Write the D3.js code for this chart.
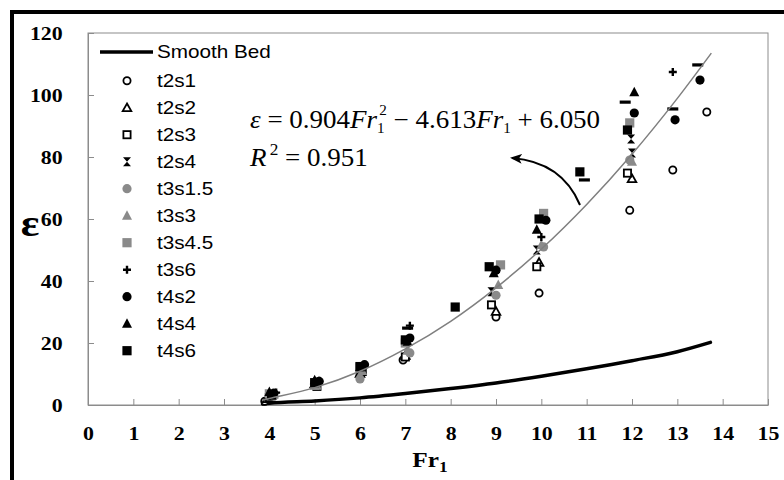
<!DOCTYPE html>
<html>
<head>
<meta charset="utf-8">
<script src="https://cdn.jsdelivr.net/npm/d3@7/dist/d3.min.js"></script>
<style>
	body { margin: 0; background: #fff; }
	svg { display: block; }
</style>
</head>
<body>
<svg id="svg_main" width="784" height="480"></svg>
<script>
// values, pairs are [Fr1, epsilon]
var smoothBed = [[3.85, 0.3], [4, 0.6], [5, 1.3], [6, 2.3], [7, 3.7], [8, 5.3], [9, 7.1], [10, 9.3], [11, 11.7], [12, 14.3], [13, 17.2], [13.73, 20.2]];
var trend = [[3.85, 1.6], [4, 2.1], [5, 5.6], [6, 10.9], [7, 18.1], [8, 27.0], [9, 37.8], [10, 50.3], [11, 64.7], [12, 80.9], [13, 98.9], [13.75, 113.5]];

var t2s1 = [[3.9, 1.2], [5.0, 6.3], [6.0, 9.5], [6.95, 14.5], [9.0, 28.4], [9.95, 36.1], [11.95, 62.8], [12.9, 75.8], [13.65, 94.5]];
var t2s2 = [[3.95, 2.0], [5.0, 6.8], [6.0, 10.2], [7.0, 16.0], [9.0, 30.2], [9.95, 46.0], [12.0, 73.0]];
var t2s3 = [[4.0, 2.4], [5.05, 6.0], [6.05, 10.8], [7.0, 15.5], [8.9, 32.3], [9.9, 44.6], [11.9, 74.8]];
var t2s4 = [[4.05, 3.0], [5.05, 7.4], [6.05, 11.6], [7.05, 18.2], [8.9, 36.5], [9.9, 50.0], [11.98, 85.8], [12.0, 81.3]];
var t3s1_5 = [[4.1, 2.8], [5.0, 6.8], [6.0, 8.4], [7.1, 16.8], [9.0, 35.4], [10.05, 51.0], [11.95, 79.0]];
var t3s3 = [[4.1, 3.4], [5.05, 6.2], [6.05, 11.0], [7.05, 17.6], [9.05, 38.7], [10.0, 51.6], [12.0, 78.5]];
var t3s4_5 = [[4.0, 3.6], [5.0, 6.4], [6.0, 12.2], [7.0, 20.0], [9.1, 45.2], [10.05, 61.8], [11.95, 91.0]];
var t3s6 = [[4.15, 4.0], [5.1, 7.8], [6.1, 12.8], [7.1, 25.6], [9.0, 43.0], [10.0, 54.2], [12.9, 107.4]];
var t4s2 = [[4.1, 3.8], [5.1, 7.6], [6.1, 13.0], [7.1, 21.6], [9.0, 43.5], [10.1, 59.6], [12.05, 94.2], [12.95, 92.0], [13.5, 104.8]];
var t4s4 = [[4.0, 4.2], [5.0, 8.0], [6.0, 12.2], [7.05, 20.4], [8.95, 42.5], [9.9, 56.5], [12.05, 100.9]];
var t4s6 = [[4.05, 3.2], [5.0, 7.2], [6.0, 12.4], [7.0, 21.0], [8.1, 31.6], [8.85, 44.6], [9.95, 60.0], [10.85, 75.2], [11.9, 88.7]];
// dash markers in the plot, series has no legend entry
var dashSeries = [[7.05, 24.8], [10.95, 72.6], [11.85, 97.7], [12.9, 95.5], [13.45, 109.7]];

var seriesNames = ["t2s1", "t2s2", "t2s3", "t2s4", "t3s1.5", "t3s3", "t3s4.5", "t3s6", "t4s2", "t4s4", "t4s6"];
var seriesData = [t2s1, t2s2, t2s3, t2s4, t3s1_5, t3s3, t3s4_5, t3s6, t4s2, t4s4, t4s6];
var seriesShapes = ["circleOpen", "triOpen", "squareOpen", "bowtie", "circle", "tri", "square", "plus", "circle", "tri", "square"];
var seriesColors = ["#000", "#000", "#000", "#000", "#8a8a8a", "#8a8a8a", "#8a8a8a", "#000", "#000", "#000", "#000"];

var xTickVals = [0, 1, 2, 3, 4, 5, 6, 7, 8, 9, 10, 11, 12, 13, 14, 15];
var yTickVals = [0, 20, 40, 60, 80, 100, 120];

var margin = { top: 33, right: 16, bottom: 75, left: 88 };
var stretch = "scale(1.15,1)";

function marker(g, shape, color) {
	if (shape == "circleOpen")
		g.append("circle").attr("r", 3.6).attr("fill", "#fff").attr("stroke", "#000").attr("stroke-width", 1.8);
	else if (shape == "triOpen")
		g.append("path").attr("d", "M0,-4.2L4.3,3.4L-4.3,3.4Z").attr("fill", "#fff").attr("stroke", "#000").attr("stroke-width", 1.8);
	else if (shape == "squareOpen")
		g.append("rect").attr("x", -3.6).attr("y", -3.6).attr("width", 7.2).attr("height", 7.2)
			.attr("fill", "#fff").attr("stroke", "#000").attr("stroke-width", 1.8);
	else if (shape == "bowtie")
		g.append("path").attr("d", "M-4,-4.5L4,-4.5L-4,4.5L4,4.5Z").attr("fill", color);
	else if (shape == "circle")
		g.append("circle").attr("r", 4.6).attr("fill", color);
	else if (shape == "tri")
		g.append("path").attr("d", "M0,-5.5L5,4L-5,4Z").attr("fill", color);
	else if (shape == "square")
		g.append("rect").attr("x", -4.6).attr("y", -4.6).attr("width", 9.2).attr("height", 9.2).attr("fill", color);
	else if (shape == "plus")
		g.append("path").attr("d", "M-4,0H4M0,-4V4").attr("stroke", color).attr("stroke-width", 2.4);
	else if (shape == "dash")
		g.append("rect").attr("x", -5.5).attr("y", -1.6).attr("width", 11).attr("height", 3.2).attr("fill", color);
}

function main() {
	var root = d3.select("#svg_main");

	var width = parseInt(root.attr("width")) - margin.left - margin.right,
		height = parseInt(root.attr("height")) - margin.top - margin.bottom;

	// outer frame, only top and left edges are inside the picture
	root.append("path")
		.attr("d", "M12,484V12H788")
		.attr("fill", "none")
		.attr("stroke", "#000")
		.attr("stroke-width", 4);

	var svg = root.append("g")
		.attr("transform", `translate(${margin.left}, ${margin.top})`);

	var x = d3.scaleLinear().domain([0, 15]).range([0, width]),
		y = d3.scaleLinear().domain([0, 120]).range([height, 0]);

	svg.append("rect")
		.attr("width", width)
		.attr("height", height)
		.attr("fill", "none")
		.attr("stroke", "#8c8c8c");

	var xAxis = d3.axisBottom(x).tickValues(xTickVals).tickSizeInner(-6).tickSizeOuter(0).tickPadding(22),
		yAxis = d3.axisLeft(y).tickValues(yTickVals).tickSizeInner(-6).tickSizeOuter(0).tickPadding(22);

	svg.append("g")
		.attr("class", "xAxis")
		.attr("transform", `translate(0, ${height})`)
		.call(xAxis);
	svg.append("g")
		.attr("class", "yAxis")
		.call(yAxis);

	svg.selectAll(".domain, .tick line").attr("stroke", "#8c8c8c");
	svg.selectAll(".tick text")
		.attr("font-family", "'Liberation Serif', 'Times New Roman', serif")
		.attr("font-weight", "bold")
		.attr("font-size", "19px")
		.attr("fill", "#000")
		.attr("transform", stretch);

	var line = d3.line()
		.x(d => x(d[0]))
		.y(d => y(d[1]))
		.curve(d3.curveMonotoneX);

	svg.append("path")
		.datum(smoothBed)
		.attr("d", line)
		.attr("fill", "none")
		.attr("stroke", "#000")
		.attr("stroke-width", 3.5)
		.attr("stroke-linecap", "round");

	seriesData.forEach((data, i) => {
		let grp = svg.append("g").attr("class", "series");
		for (let d of data) {
			let m = grp.append("g").attr("transform", `translate(${x(d[0])}, ${y(d[1])})`);
			marker(m, seriesShapes[i], seriesColors[i]);
		}
	});
	for (let d of dashSeries) {
		let m = svg.append("g").attr("transform", `translate(${x(d[0])}, ${y(d[1])})`);
		marker(m, "dash", "#000");
	}

	svg.append("path")
		.datum(trend)
		.attr("d", line)
		.attr("fill", "none")
		.attr("stroke", "#7f7f7f")
		.attr("stroke-width", 1.5);

	// legend
	var legend = root.append("g").attr("class", "legend");
	var legendFont = "'Liberation Sans', Arial, sans-serif";
	legend.append("line")
		.attr("x1", 100).attr("x2", 153)
		.attr("y1", 52).attr("y2", 52)
		.attr("stroke", "#000")
		.attr("stroke-width", 3.5);
	legend.append("text")
		.attr("transform", `translate(157, 58) ${stretch}`)
		.attr("font-family", legendFont)
		.attr("font-size", "18px")
		.text("Smooth Bed");
	seriesNames.forEach((name, i) => {
		let ly = 80.7 + i * 27;
		let m = legend.append("g").attr("transform", `translate(127, ${ly})`);
		marker(m, seriesShapes[i], seriesColors[i]);
		legend.append("text")
			.attr("transform", `translate(157, ${ly + 6}) ${stretch}`)
			.attr("font-family", legendFont)
			.attr("font-size", "18px")
			.text(name);
	});

	// axis titles
	var serif = "'Liberation Serif', 'Times New Roman', serif";
	root.append("text")
		.attr("transform", `translate(30, 236) ${stretch}`)
		.attr("text-anchor", "middle")
		.attr("font-family", serif)
		.attr("font-weight", "bold")
		.attr("font-size", "38px")
		.text("ε");

	var fr = root.append("text")
		.attr("transform", `translate(430, 467) ${stretch}`)
		.attr("text-anchor", "middle")
		.attr("font-family", serif)
		.attr("font-weight", "bold")
		.attr("font-size", "22px");
	fr.append("tspan").text("Fr");
	fr.append("tspan").attr("font-size", "15px").attr("dy", 5).text("1");

	// regression equation
	var eq = root.append("text")
		.attr("transform", `translate(250, 128) scale(1.08,1)`)
		.attr("font-family", serif)
		.attr("font-size", "25px");
	eq.append("tspan").attr("font-style", "italic").text("ε");
	eq.append("tspan").text(" = 0.904");
	eq.append("tspan").attr("font-style", "italic").text("Fr");
	eq.append("tspan").attr("font-size", "14px").attr("dy", 5).text("1");
	eq.append("tspan").attr("font-size", "14px").attr("dx", -5).attr("dy", -18).text("2");
	eq.append("tspan").attr("dy", 13).text(" − 4.613");
	eq.append("tspan").attr("font-style", "italic").text("Fr");
	eq.append("tspan").attr("font-size", "14px").attr("dy", 5).text("1");
	eq.append("tspan").attr("dy", -5).text(" + 6.050");

	var r2 = root.append("text")
		.attr("transform", `translate(250, 166) scale(1.08,1)`)
		.attr("font-family", serif)
		.attr("font-size", "25px");
	r2.append("tspan").attr("font-style", "italic").text("R");
	r2.append("tspan").attr("font-size", "16px").attr("dx", 3).attr("dy", -11).text("2");
	r2.append("tspan").attr("dy", 11).text(" = 0.951");

	// curved arrow from the trend line to the equation
	root.append("defs").append("marker")
		.attr("id", "head")
		.attr("viewBox", "0 0 12 10")
		.attr("refX", 10).attr("refY", 5)
		.attr("markerWidth", 12).attr("markerHeight", 10)
		.attr("markerUnits", "userSpaceOnUse")
		.attr("orient", "auto")
		.append("path")
		.attr("d", "M0,0L12,5L0,10L3,5Z")
		.attr("fill", "#000");
	root.append("path")
		.attr("d", "M580,205Q562,162 512,158")
		.attr("fill", "none")
		.attr("stroke", "#000")
		.attr("stroke-width", 2)
		.attr("marker-end", "url(#head)");
}

main();
</script>
</body>
</html>
